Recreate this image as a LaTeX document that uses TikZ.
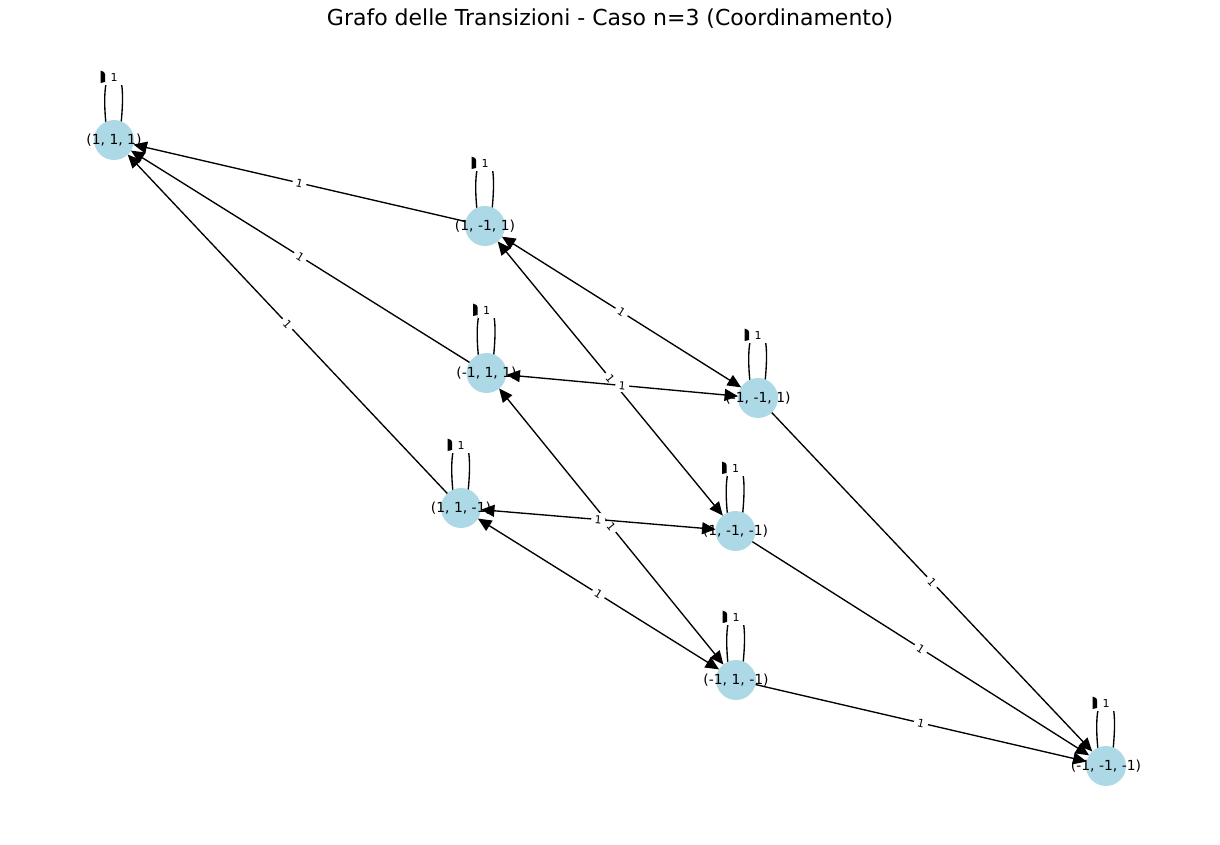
\documentclass[tikz,border=0pt]{standalone}
\usepackage{fontspec}
\setmainfont{DejaVu Sans}
\usetikzlibrary{arrows.meta,calc}
\definecolor{nodeblue}{HTML}{ADD8E6}
\begin{document}
\begin{tikzpicture}[x=1pt,y=-1pt,
  state/.style={circle,fill=nodeblue,minimum size=40pt,inner sep=0pt,outer sep=0pt},
  statelabel/.style={font=\fontsize{13.9}{16}\selectfont,inner sep=0pt},
  edge/.style={line width=1.35pt,-{Triangle[length=13.5pt,width=12pt]}},
  biedge/.style={line width=1.35pt,{Triangle[length=13.5pt,width=12pt]}-{Triangle[length=13.5pt,width=12pt]}},
  elabel/.style={fill=white,font=\fontsize{11}{13}\selectfont,inner xsep=3.5pt,inner ysep=2.5pt,sloped},
  looplabel/.style={fill=white,font=\fontsize{11}{13}\selectfont,minimum width=18pt,minimum height=16pt,inner sep=0pt},
  loopline/.style={line width=1.35pt},
  titlestyle/.style={font=\fontsize{22}{26}\selectfont,inner sep=0pt}
]
\useasboundingbox (0,0) rectangle (1220,844);
\node[titlestyle] (title) at (610,19) {Grafo delle Transizioni - Caso n=3 (Coordinamento)};

% node positions
\coordinate (pA) at (114,140);
\coordinate (pB) at (485,226);
\coordinate (pC) at (486.5,373);
\coordinate (pD) at (758,398);
\coordinate (pE) at (461,508);
\coordinate (pF) at (735.5,531);
\coordinate (pG) at (736,680);
\coordinate (pH) at (1106,766);

% self-loops (drawn first, circles cover their feet)
\foreach \p in {pA,pB,pC,pD,pE,pF,pG,pH} {
  \draw[loopline] ($(\p)+(-8,-16)$) .. controls ($(\p)+(-11,-45)$) and ($(\p)+(-9,-68)$) .. ($(\p)+(0,-68)$)
     .. controls ($(\p)+(9,-68)$) and ($(\p)+(10,-45)$) .. ($(\p)+(7,-16)$);
}

% states
\node[state] (A) at (pA) {};
\node[state] (B) at (pB) {};
\node[state] (C) at (pC) {};
\node[state] (D) at (pD) {};
\node[state] (E) at (pE) {};
\node[state] (F) at (pF) {};
\node[state] (G) at (pG) {};
\node[state] (H) at (pH) {};

\node[statelabel] (tA) at (pA) {(1, 1, 1)};
\node[statelabel] (tB) at (pB) {(1, -1, 1)};
\node[statelabel] (tC) at (pC) {(-1, 1, 1)};
\node[statelabel] (tD) at (pD) {(-1, -1, 1)};
\node[statelabel] (tE) at (pE) {(1, 1, -1)};
\node[statelabel] (tF) at (pF) {(1, -1, -1)};
\node[statelabel] (tG) at (pG) {(-1, 1, -1)};
\node[statelabel] (tH) at (pH) {(-1, -1, -1)};

% transitions
\draw[edge] (B) -- node[elabel]{1} (A);
\draw[edge] (C) -- node[elabel]{1} (A);
\draw[edge] (E) -- node[elabel]{1} (A);
\draw[biedge] (B) -- node[elabel]{1} (D);
\draw[biedge] (B) -- node[elabel]{1} (F);
\draw[biedge] (C) -- node[elabel]{1} (D);
\draw[biedge] (C) -- node[elabel]{1} (G);
\draw[biedge] (E) -- node[elabel]{1} (F);
\draw[biedge] (E) -- node[elabel]{1} (G);
\draw[edge] (D) -- node[elabel]{1} (H);
\draw[edge] (F) -- node[elabel]{1} (H);
\draw[edge] (G) -- node[elabel]{1} (H);

% loop heads and labels
\foreach \p/\n in {pA/lA,pB/lB,pC/lC,pD/lD,pE/lE,pF/lF,pG/lG,pH/lH} {
  \node[looplabel] (\n) at ($(\p)+(0,-63)$) {1};
  \fill ($(\p)+(-13.5,-69.5)$) -- ($(\p)+(-10,-68)$) -- ($(\p)+(-9,-66)$) -- ($(\p)+(-9,-58)$) -- ($(\p)+(-13.5,-57)$) -- cycle;
}
\end{tikzpicture}
\end{document}
